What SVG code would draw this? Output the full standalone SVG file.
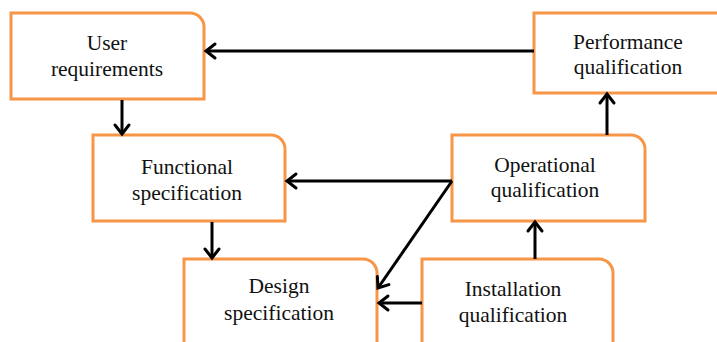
<svg xmlns="http://www.w3.org/2000/svg" width="717" height="342" viewBox="0 0 717 342">
  <style>
    .box { fill: #ffffff; stroke: #F79646; stroke-width: 3; }
    .lbl { font-family: "Liberation Serif", "Times New Roman", serif; font-size: 21.5px; fill: #111111; text-anchor: middle; }
    .conn { fill: none; stroke: #000000; stroke-width: 3; marker-end: url(#arr); }
  </style>
  <defs>
    <marker id="arr" markerUnits="userSpaceOnUse" markerWidth="20" markerHeight="20" refX="0" refY="0" viewBox="-12 -10 14 20" orient="auto">
      <path d="M-9,-7 L0,0 L-9,7" fill="none" stroke="#000000" stroke-width="3" stroke-linejoin="miter" stroke-linecap="round"/>
    </marker>
  </defs>
  <rect width="717" height="342" fill="#ffffff"/>

  <g id="user-requirements">
    <path class="box" d="M11,13 H190 A14,14 0 0 1 204,27 V99 H11 Z"/>
    <text class="lbl" x="107" y="50">User</text>
    <text class="lbl" x="107" y="76">requirements</text>
  </g>
  <g id="performance-qualification">
    <path class="box" d="M534,13 H716 A14,14 0 0 1 730,27 V93 H534 Z"/>
    <text class="lbl" x="628" y="49">Performance</text>
    <text class="lbl" x="628" y="74">qualification</text>
  </g>
  <g id="functional-specification">
    <path class="box" d="M93,135 H271 A14,14 0 0 1 285,149 V221 H93 Z"/>
    <text class="lbl" x="187" y="174">Functional</text>
    <text class="lbl" x="187" y="200">specification</text>
  </g>
  <g id="operational-qualification">
    <path class="box" d="M452,135 H631 A14,14 0 0 1 645,149 V221 H452 Z"/>
    <text class="lbl" x="545" y="172">Operational</text>
    <text class="lbl" x="545" y="197">qualification</text>
  </g>
  <g id="design-specification">
    <path class="box" d="M184,259 H363 A14,14 0 0 1 377,273 V360 H184 Z"/>
    <text class="lbl" x="279" y="293">Design</text>
    <text class="lbl" x="279" y="320">specification</text>
  </g>
  <g id="installation-qualification">
    <path class="box" d="M422,259 H599 A14,14 0 0 1 613,273 V360 H422 Z"/>
    <text class="lbl" x="513" y="296">Installation</text>
    <text class="lbl" x="513" y="322">qualification</text>
  </g>

  <g id="connectors">
    <path class="conn" d="M534,51 L206,51"/>
    <path class="conn" d="M122,100 L122,134"/>
    <path class="conn" d="M212,222 L212,258"/>
    <path class="conn" d="M452,181 L287,181"/>
    <path class="conn" d="M452,181 L378,288"/>
    <path class="conn" d="M422,303 L379,303"/>
    <path class="conn" d="M535,259 L535,222"/>
    <path class="conn" d="M607,135 L607,94"/>
  </g>
</svg>
